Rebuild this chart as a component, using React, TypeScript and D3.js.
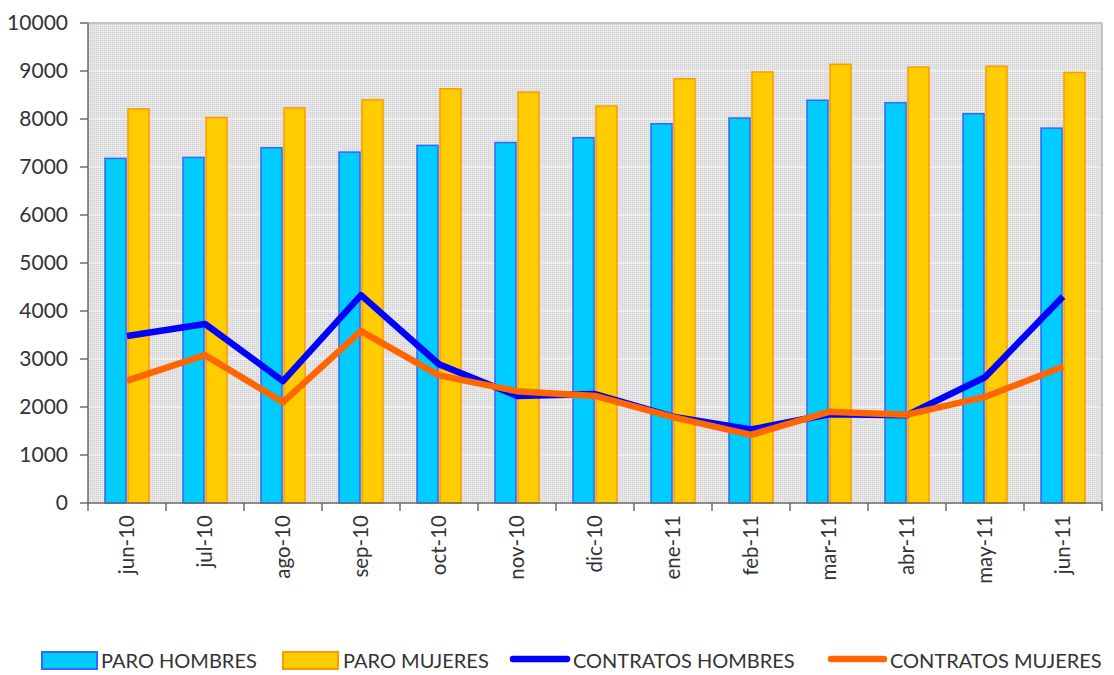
import React from "react";
import * as d3 from "d3";

const categories = ["jun-10","jul-10","ago-10","sep-10","oct-10","nov-10","dic-10","ene-11","feb-11","mar-11","abr-11","may-11","jun-11"];
const paroHombres = [7180,7200,7400,7310,7450,7510,7610,7900,8020,8390,8340,8110,7810];
const paroMujeres = [8210,8030,8230,8400,8630,8560,8270,8840,8980,9140,9080,9100,8970];
const contratosHombres = [3480,3730,2540,4330,2890,2230,2270,1800,1530,1850,1830,2620,4300];
const contratosMujeres = [2550,3080,2100,3580,2660,2330,2230,1790,1420,1900,1840,2210,2840];
const yTicks = [0,1000,2000,3000,4000,5000,6000,7000,8000,9000,10000];

const W = 1114, H = 675;
const left = 88, right = 1102, top = 23, bottom = 503;
const FONT = "Lato, 'Open Sans', sans-serif";

export default function App() {
  const x = d3.scaleBand<string>().domain(categories).range([left, right]).padding(0);
  const y = d3.scaleLinear().domain([0, 10000]).range([bottom, top]);
  const bw = x.bandwidth();
  const barW = 23;
  const cx = (c: string) => (x(c) as number) + bw / 2;
  const line = d3.line<number>().x((_, i) => cx(categories[i])).y((v) => y(v));

  return (
    <svg width={W} height={H} style={{ position: "absolute", left: 0, top: 0, background: "#fff" }}>
      <defs>
        <pattern id="dots" width="2" height="2" patternUnits="userSpaceOnUse">
          <rect width="2" height="2" fill="#e2e2e2" />
          <rect width="1" height="1" fill="#d2d2d2" />
          <rect x="1" y="1" width="1" height="1" fill="#ececec" />
        </pattern>
      </defs>
      <rect x={left} y={top} width={right - left} height={bottom - top} fill="url(#dots)" />
      {yTicks.slice(1, -1).map((t) => (
        <line key={t} x1={left} x2={right} y1={y(t)} y2={y(t)} stroke="#f4f4f4" strokeWidth={1.2} />
      ))}
      <line x1={left} x2={right} y1={top} y2={top} stroke="#c4c4c4" strokeWidth={2} />
      <line x1={right} x2={right} y1={top} y2={bottom} stroke="#c4c4c4" strokeWidth={2} />
      {categories.map((c, i) => (
        <g key={c}>
          <rect x={cx(c) - barW + 1} y={y(paroHombres[i])} width={barW - 2} height={bottom - y(paroHombres[i])}
            fill="#00ccff" stroke="#3366ff" strokeWidth={1.5} />
          <rect x={cx(c) + 1} y={y(paroMujeres[i])} width={barW - 2} height={bottom - y(paroMujeres[i])}
            fill="#ffcc00" stroke="#ff9900" strokeWidth={1.5} />
        </g>
      ))}
      <path d={line(contratosHombres) || ""} fill="none" stroke="#0000ff" strokeWidth={6.5} strokeLinejoin="round" />
      <path d={line(contratosMujeres) || ""} fill="none" stroke="#ff6600" strokeWidth={6.5} strokeLinejoin="round" />
      <line x1={left} x2={left} y1={top} y2={bottom} stroke="#6a6a6a" strokeWidth={1.5} />
      <line x1={left} x2={right} y1={bottom} y2={bottom} stroke="#6a6a6a" strokeWidth={1.5} />
      {yTicks.map((t) => (
        <g key={t}>
          <line x1={left - 8} x2={left} y1={y(t)} y2={y(t)} stroke="#6a6a6a" strokeWidth={1.5} />
          <text x={left - 20} y={y(t)} dy="0.35em" textAnchor="end" fontFamily={FONT} fontSize={21} fill="#333">{t}</text>
        </g>
      ))}
      {categories.map((c) => (
        <line key={c} x1={x(c) as number} x2={x(c) as number} y1={bottom} y2={bottom + 8} stroke="#6a6a6a" strokeWidth={1.5} />
      ))}
      <line x1={right} x2={right} y1={bottom} y2={bottom + 8} stroke="#6a6a6a" strokeWidth={1.5} />
      {categories.map((c) => (
        <text key={c} transform={`translate(${cx(c)},${bottom + 12}) rotate(-90)`} dy="0.35em" textAnchor="end"
          fontFamily={FONT} fontSize={20.5} fill="#333">{c}</text>
      ))}
      <g fontFamily={FONT} fontSize={20} fill="#333">
        <rect x={42} y={652} width={55} height={17} fill="#00ccff" stroke="#3366ff" strokeWidth={2} />
        <text x={101} y={661} dy="0.35em">PARO HOMBRES</text>
        <rect x={283} y={652} width={55} height={17} fill="#ffcc00" stroke="#ff9900" strokeWidth={2} />
        <text x={343} y={661} dy="0.35em">PARO MUJERES</text>
        <line x1={513} x2={567} y1={659} y2={659} stroke="#0000ff" strokeWidth={6.5} strokeLinecap="round" />
        <text x={573} y={661} dy="0.35em">CONTRATOS HOMBRES</text>
        <line x1={831} x2={884} y1={659} y2={659} stroke="#ff6600" strokeWidth={6.5} strokeLinecap="round" />
        <text x={890} y={661} dy="0.35em">CONTRATOS MUJERES</text>
      </g>
    </svg>
  );
}
